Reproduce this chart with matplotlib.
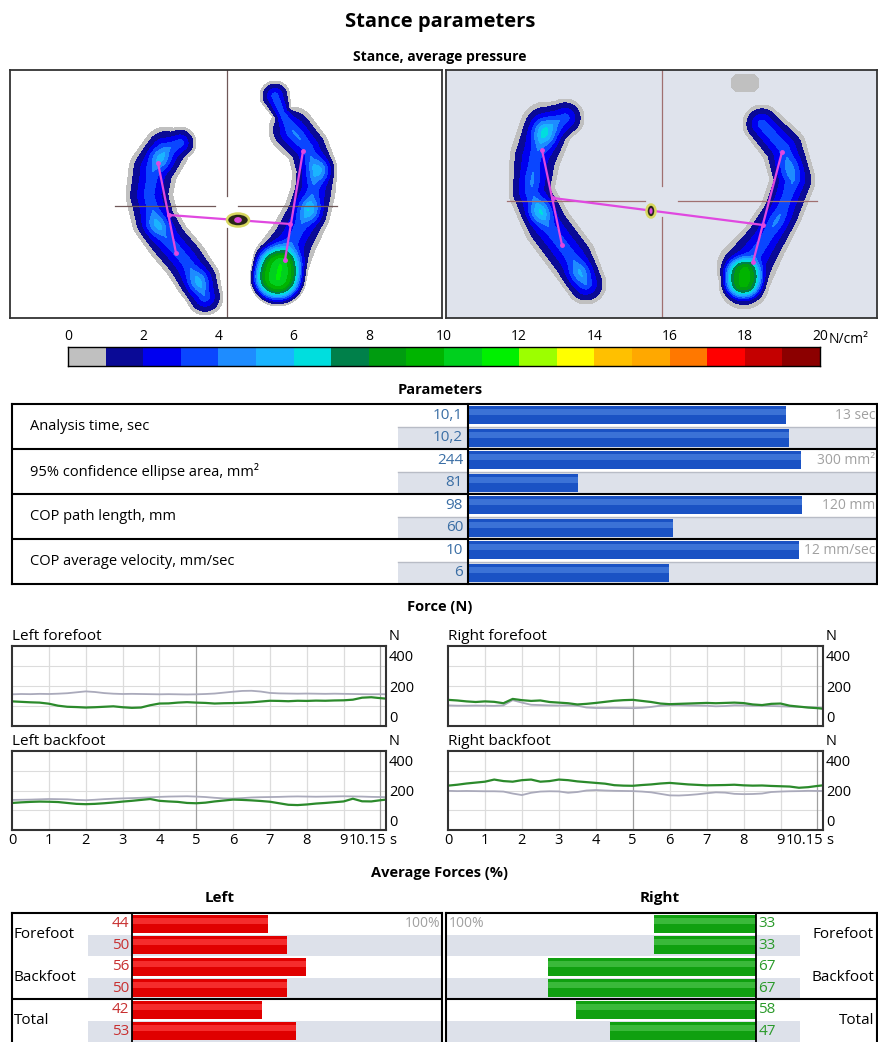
import numpy as np
import matplotlib
matplotlib.use("Agg")
import matplotlib.pyplot as plt
from matplotlib.patches import Ellipse
from matplotlib.colors import ListedColormap

W, H = 879, 1042
plt.rcParams['font.family'] = ['Open Sans', 'DejaVu Sans']

# ---- pressure colour scale (N/cm2), one colour per 1 N/cm2 step ----
cbar_colors = ['#c0c0c0', '#0a0a96', '#0000f0', '#0a46ff', '#1e8cff', '#1ab4ff',
               '#00dede', '#00804a', '#009c10', '#00b400', '#00d01e', '#00f000',
               '#9cff00', '#ffff00', '#ffc000', '#ffa800', '#ff7800', '#ff0000',
               '#c40000', '#8c0000']
cbar_ticks = [0, 2, 4, 6, 8, 10, 12, 14, 16, 18, 20]
press_levels = [0.2] + list(range(1, 21))

# ---- foot pressure maps: centre line (x, y, half width), base pressure,
#      hot spots (x, y, extra pressure, size, flatness) ----
foot_a_path = [(180, 143, 16), (166, 150, 23), (153, 170, 24), (149, 195, 23), (155, 220, 23),
               (168, 240, 22), (185, 260, 22), (198, 280, 22), (205, 297, 18)]
foot_a_spots = [(160, 158, 1.8, 8, 1), (157, 225, 1.8, 8, 1), (198, 282, 1.8, 8, 1)]
foot_b_path = [(275, 96, 15), (282, 113, 10), (292, 130, 23), (308, 148, 21), (315, 170, 22),
               (313, 192, 22), (307, 213, 23), (294, 238, 24), (281, 262, 28), (278, 278, 28)]
foot_b_spots = [(296, 135, 0.4, 8, 1), (320, 170, 2.3, 8, 1), (310, 210, 2.4, 8, 1),
                (277, 274, 7.5, 18.5, 2)]
foot_c_path = [(565, 118, 19), (546, 128, 26), (535, 158, 25), (531, 192, 22), (548, 226, 24),
               (572, 258, 24), (586, 284, 20)]
foot_c_spots = [(545, 133, 2.8, 9, 1), (540, 212, 2.5, 8, 1), (580, 273, 1.5, 8, 1),
                (532, 180, 0.5, 8, 1)]
foot_d_path = [(762, 124, 19), (784, 148, 22), (793, 180, 22), (781, 213, 21), (765, 240, 23),
               (746, 268, 29), (744, 284, 25)]
foot_d_spots = [(743, 278, 6.0, 13.5, 2), (790, 170, 1.0, 9, 1), (776, 220, 0.5, 8, 1)]
stray_path = [(740, 83, 9), (750, 83, 9)]
foot_base = 3.4

left_cross = [((227, 70), (227, 196)), ((227, 228), (227, 318)),
              ((115, 206), (215, 206)), ((238, 206), (337, 206))]
right_cross = [((662, 70), (662, 186)), ((662, 217), (662, 318)),
               ((507, 201), (645, 201)), ((678, 201), (817, 201))]
left_cop_lines = [((158, 163), (176, 253)), ((303, 151), (285, 260)), ((169, 215), (290, 224))]
right_cop_lines = [((542, 150), (562, 245)), ((782, 152), (753, 262)), ((553, 198), (763, 225))]

# ---- parameters ----
param_names = ['Analysis time, sec', '95% confidence ellipse area, mm²',
               'COP path length, mm', 'COP average velocity, mm/sec']
param_first = [10.1, 244, 98, 9.7]
param_second = [10.2, 81, 60, 5.9]
param_first_lbl = ['10,1', '244', '98', '10']
param_second_lbl = ['10,2', '81', '60', '6']
param_max = [13, 300, 120, 12]
param_max_lbl = ['13 sec', '300 mm²', '120 mm', '12 mm/sec']

# ---- force curves (N) ----
force_t = [0.0, 0.25, 0.5, 0.75, 1.0, 1.25, 1.5, 1.75, 2.0, 2.25, 2.5, 2.75, 3.0, 3.25,
           3.5, 3.75, 4.0, 4.25, 4.5, 4.75, 5.0, 5.25, 5.5, 5.75, 6.0, 6.25, 6.5, 6.75,
           7.0, 7.25, 7.5, 7.75, 8.0, 8.25, 8.5, 8.75, 9.0, 9.25, 9.5, 9.75, 10.0, 10.15]
lf_grey = [146, 148, 147, 149, 148, 150, 153, 159, 165, 161, 154, 150, 148, 149, 148, 147,
           146, 147, 146, 145, 146, 148, 151, 157, 163, 168, 169, 164, 155, 152, 151, 150,
           151, 150, 149, 150, 149, 148, 147, 146, 147, 146]
lf_green = [100, 97, 94, 92, 85, 72, 65, 63, 60, 62, 65, 68, 62, 58, 60, 75, 86, 87, 92, 95,
            92, 90, 86, 88, 89, 91, 94, 99, 104, 103, 101, 104, 103, 105, 104, 106, 107, 111,
            124, 127, 121, 118]
lb_grey = [138, 139, 140, 142, 144, 143, 142, 138, 136, 139, 143, 146, 148, 150, 152, 155,
           158, 160, 161, 162, 160, 157, 152, 148, 147, 150, 154, 156, 157, 158, 160, 161,
           160, 159, 160, 161, 162, 161, 160, 158, 157, 156]
lb_green = [118, 122, 125, 127, 126, 124, 118, 112, 110, 112, 116, 121, 127, 132, 138, 144,
            132, 128, 125, 118, 116, 120, 128, 134, 140, 138, 135, 131, 126, 116, 106, 104,
            108, 114, 118, 123, 128, 146, 129, 128, 136, 140]
rf_grey = [74, 72, 72, 73, 72, 71, 74, 108, 92, 78, 76, 74, 73, 74, 72, 60, 57, 57, 58, 57,
           56, 58, 64, 72, 76, 76, 74, 73, 72, 68, 70, 75, 74, 72, 72, 70, 68, 66, 64, 61, 60, 58]
rf_green = [110, 106, 100, 96, 100, 97, 88, 116, 108, 103, 106, 96, 92, 88, 80, 84, 90, 97,
            104, 108, 110, 103, 96, 86, 82, 84, 86, 88, 90, 88, 90, 92, 89, 80, 76, 84, 86, 72,
            66, 60, 56, 52]
rb_grey = [198, 196, 197, 196, 195, 195, 193, 180, 170, 185, 193, 195, 194, 185, 190, 200,
           203, 200, 198, 197, 196, 193, 188, 178, 168, 167, 170, 175, 182, 188, 186, 178,
           176, 177, 180, 190, 193, 195, 196, 198, 197, 197]
rb_green = [232, 238, 246, 252, 258, 272, 262, 258, 268, 272, 258, 262, 272, 268, 260, 255,
            250, 245, 235, 232, 231, 236, 240, 246, 250, 245, 240, 237, 234, 235, 236, 238,
            234, 232, 233, 230, 228, 226, 218, 222, 230, 234]
force_ticks = [0, 1, 2, 3, 4, 5, 6, 7, 8, 9, 10.15]
force_tick_lbl = ['0', '1', '2', '3', '4', '5', '6', '7', '8', '9', '10.15']

# ---- average forces (%) ----
af_names = ['Forefoot', 'Backfoot', 'Total']
left_first = [44, 56, 42]
left_second = [50, 50, 53]
right_first = [33, 67, 58]
right_second = [33, 67, 47]

row_grey = '#dde1ea'

fig = plt.figure(figsize=(W / 100, H / 100), dpi=100)


def box(x0, y0, x1, y1):
    return fig.add_axes([x0 / W, 1 - y1 / H, (x1 - x0) / W, (y1 - y0) / H])


def ftext(x, y, s, **kw):
    fig.text(x / W, 1 - y / H, s, **kw)


def foot_field(X, Y, path, base, spots):
    pts = np.array(path, float)
    r = np.full(X.shape, np.inf)
    for (x0, y0, w0), (x1, y1, w1) in zip(pts[:-1], pts[1:]):
        dx, dy = x1 - x0, y1 - y0
        t = np.clip(((X - x0) * dx + (Y - y0) * dy) / (dx * dx + dy * dy), 0, 1)
        d = np.hypot(X - (x0 + t * dx), Y - (y0 + t * dy))
        r = np.minimum(r, d / (w0 + t * (w1 - w0)))
    extra = np.zeros(X.shape)
    for sx, sy, a, s, p in spots:
        extra += a * np.exp(-(((X - sx) ** 2 + (Y - sy) ** 2) / (2 * s * s)) ** p)
    f = 0.3 + base * (1 - r) + extra * np.clip(1 - r ** 4, 0, None)
    return np.where(r < 1, f, 0.0)


def pressure_panel(x0, y0, x1, y1, bg, feet, cross, cross_color, cop_lines, cop_xy, cop_wh):
    ax = box(x0, y0, x1, y1)
    ax.set_facecolor(bg)
    X, Y = np.meshgrid(np.arange(x0, x1 + 1.0, 1.0), np.arange(y0, y1 + 1.0, 1.0))
    F = np.zeros_like(X)
    for path, base, spots in feet:
        F = np.maximum(F, foot_field(X, Y, path, base, spots))
    ax.contourf(X, Y, F, levels=press_levels, colors=cbar_colors)
    for (xa, ya), (xb, yb) in cross:
        ax.plot([xa, xb], [ya, yb], color=cross_color, lw=0.9)
    for (xa, ya), (xb, yb) in cop_lines:
        ax.plot([xa, xb], [ya, yb], color='#e048e0', lw=1.6)
        ax.plot([xa, xb], [ya, yb], 'o', color='#e048e0', ms=2.5)
    ax.add_patch(Ellipse(cop_xy, cop_wh[0], cop_wh[1], fc='#2a2a18', ec='#d8d860', lw=1.8, zorder=5))
    ax.add_patch(Ellipse(cop_xy, cop_wh[0] * 0.35, cop_wh[1] * 0.45, fc='#e048e0', ec='none', zorder=6))
    ax.set_xlim(x0, x1)
    ax.set_ylim(y1, y0)
    ax.set_xticks([])
    ax.set_yticks([])
    for sp in ax.spines.values():
        sp.set_linewidth(1.3)
        sp.set_color('#333333')
    return ax


# titles
ftext(440, 22, 'Stance parameters', ha='center', va='center', fontsize=14.5, fontweight='bold')
ftext(440, 57, 'Stance, average pressure', ha='center', va='center', fontsize=10, fontweight='bold')
ftext(440, 390, 'Parameters', ha='center', va='center', fontsize=10.5, fontweight='bold')
ftext(440, 607, 'Force (N)', ha='center', va='center', fontsize=10.5, fontweight='bold')
ftext(440, 873, 'Average Forces (%)', ha='center', va='center', fontsize=10.5, fontweight='bold')
ftext(220, 898, 'Left', ha='center', va='center', fontsize=11, fontweight='bold')
ftext(660, 898, 'Right', ha='center', va='center', fontsize=11, fontweight='bold')

# pressure maps
pressure_panel(10, 70, 442, 318, 'white',
               [(foot_a_path, foot_base, foot_a_spots), (foot_b_path, foot_base, foot_b_spots)],
               left_cross, '#705858', left_cop_lines, (238, 220), (22, 13))
pressure_panel(446, 70, 877, 318, '#dfe3ec',
               [(foot_c_path, foot_base, foot_c_spots), (foot_d_path, foot_base, foot_d_spots),
                (stray_path, 0.6, [])],
               right_cross, '#a07070', right_cop_lines, (651, 211), (9, 13))

# colour bar
cax = box(68, 347, 820, 366)
cax.imshow(np.arange(20)[None, :], cmap=ListedColormap(cbar_colors), aspect='auto',
           extent=(0, 20, 0, 1), interpolation='nearest')
cax.set_xlim(0, 20)
cax.set_yticks([])
cax.xaxis.tick_top()
cax.set_xticks(cbar_ticks)
cax.set_xticklabels([str(v) for v in cbar_ticks])
cax.tick_params(axis='x', length=0, pad=2, labelsize=10)
for sp in cax.spines.values():
    sp.set_linewidth(1.0)
cax.text(1.012, 1.0, 'N/cm²', transform=cax.transAxes, ha='left', va='bottom', fontsize=10)

# parameters table
tab = box(12, 404, 877, 584)
tab.set_xlim(0, 1)
tab.set_ylim(8, 0)
grey_from = (398 - 12) / (877 - 12)
for k in range(4):
    tab.axhspan(2 * k + 1, 2 * k + 2, xmin=grey_from, xmax=1, color=row_grey, lw=0)
    tab.plot([grey_from, 1], [2 * k + 1, 2 * k + 1], color='#b8bcc6', lw=1.0)
    tab.text(0.021, 2 * k + 1, param_names[k], va='center', ha='left', fontsize=10.5)
for k in range(1, 4):
    tab.axhline(2 * k, color='black', lw=1.5)
tab.set_xticks([])
tab.set_yticks([])
for sp in tab.spines.values():
    sp.set_linewidth(1.5)

pbar = box(468, 404, 877, 584)
pbar.patch.set_alpha(0)
pbar.set_xlim(0, 1)
pbar.set_ylim(8, 0)
for k in range(4):
    for j, vals, lbls in [(0, param_first, param_first_lbl), (1, param_second, param_second_lbl)]:
        y = 2 * k + j + 0.5
        frac = vals[k] / param_max[k]
        pbar.barh(y, frac, height=0.8, color='#1a52c4')
        pbar.barh(y - 0.14, frac, height=0.26, color='#4a80de', alpha=0.7)
        pbar.text(-0.012, y, lbls[k], transform=pbar.get_yaxis_transform(), ha='right',
                  va='center', color='#3a6ea5', fontsize=11)
    pbar.text(0.996, 2 * k + 0.5, param_max_lbl[k], transform=pbar.get_yaxis_transform(),
              ha='right', va='center', color='#a0a0a0', fontsize=10)
pbar.set_xticks([])
pbar.set_yticks([])
for name, sp in pbar.spines.items():
    sp.set_visible(name == 'left')
pbar.spines['left'].set_linewidth(1.5)

# force curves
force_panels = [('Left forefoot', (12, 646, 386, 726), lf_grey, lf_green, False),
                ('Left backfoot', (12, 751, 386, 830), lb_grey, lb_green, True),
                ('Right forefoot', (448, 646, 823, 726), rf_grey, rf_green, False),
                ('Right backfoot', (448, 751, 823, 830), rb_grey, rb_green, True)]
for title, (x0, y0, x1, y1), grey, green, bottom in force_panels:
    ax = box(x0, y0, x1, y1)
    ax.set_xlim(0, 10.15)
    ax.set_ylim(-60, 460)
    for g in np.linspace(-60, 460, 5)[1:-1]:
        ax.axhline(g, color='#dcdcdc', lw=0.8, zorder=0)
    for s in range(1, 11):
        ax.axvline(s, color='#a0a0a0' if s in (5, 10) else '#dcdcdc', lw=0.9, zorder=0)
    ax.plot(force_t, grey, color='#aaaabb', lw=1.3)
    ax.plot(force_t, green, color='#2b8a2b', lw=1.6)
    ax.yaxis.tick_right()
    ax.set_yticks([0, 200, 400])
    ax.set_yticklabels(['0', '200', '400'])
    ax.tick_params(length=0, pad=2, labelsize=10.5)
    ax.text(0, 1.03, title, transform=ax.transAxes, ha='left', va='bottom', fontsize=11)
    ax.text(1.008, 1.03, 'N', transform=ax.transAxes, ha='left', va='bottom', fontsize=10.5)
    if bottom:
        ax.set_xticks(force_ticks)
        ax.set_xticklabels(force_tick_lbl)
        ax.get_xticklabels()[-1].set_ha('right')
        ax.text(1.01, -0.04, 's', transform=ax.transAxes, ha='left', va='top', fontsize=10.5)
    else:
        ax.set_xticks([])
    for sp in ax.spines.values():
        sp.set_linewidth(1.5)
        sp.set_color('#333333')

# average forces
af_bottom = 1047
n_sub = (af_bottom - 913) / 21.5


def force_table(x0, x1, div_x, grey_x0, grey_x1, first, second, bar_color, hi_color,
                val_color, right_side):
    frame = box(x0, 913, x1, af_bottom)
    frame.set_xlim(x0, x1)
    frame.set_ylim(n_sub, 0)
    for k in range(3):
        frame.axhspan(2 * k + 1, 2 * k + 2, xmin=(grey_x0 - x0) / (x1 - x0),
                      xmax=(grey_x1 - x0) / (x1 - x0), color=row_grey, lw=0)
        if right_side:
            frame.text(x1 - 3, 2 * k + 1, af_names[k], ha='right', va='center', fontsize=11)
        else:
            frame.text(x0 + 2, 2 * k + 1, af_names[k], ha='left', va='center', fontsize=11)
    frame.axhline(4, color='black', lw=1.5)
    frame.set_xticks([])
    frame.set_yticks([])
    for sp in frame.spines.values():
        sp.set_linewidth(1.5)

    if right_side:
        bx = box(x0, 913, div_x, af_bottom)
        bx.set_xlim(100, 0)
    else:
        bx = box(div_x, 913, x1, af_bottom)
        bx.set_xlim(0, 100)
    bx.patch.set_alpha(0)
    bx.set_ylim(n_sub, 0)
    for k in range(3):
        for j, vals in [(0, first), (1, second)]:
            y = 2 * k + j + 0.5
            bx.barh(y, vals[k], height=0.82, color=bar_color)
            bx.barh(y - 0.14, vals[k], height=0.26, color=hi_color, alpha=0.7)
            if right_side:
                bx.text(1.008, y, str(vals[k]), transform=bx.get_yaxis_transform(), ha='left',
                        va='center', color=val_color, fontsize=11)
            else:
                bx.text(-0.008, y, str(vals[k]), transform=bx.get_yaxis_transform(), ha='right',
                        va='center', color=val_color, fontsize=11)
    if right_side:
        bx.text(0.01, 0.5, '100%', transform=bx.get_yaxis_transform(), ha='left', va='center',
                color='#a0a0a0', fontsize=10)
    else:
        bx.text(0.995, 0.5, '100%', transform=bx.get_yaxis_transform(), ha='right', va='center',
                color='#a0a0a0', fontsize=10)
    bx.set_xticks([])
    bx.set_yticks([])
    keep = 'right' if right_side else 'left'
    for name, sp in bx.spines.items():
        sp.set_visible(name == keep)
    bx.spines[keep].set_linewidth(1.3)


force_table(12, 442, 132, 88, 442, left_first, left_second, '#e00000', '#ff4040', '#c83030', False)
force_table(446, 877, 756, 446, 800, right_first, right_second, '#10a010', '#4cc44c', '#2a9a2a', True)

fig.savefig('out.png', dpi=100)
